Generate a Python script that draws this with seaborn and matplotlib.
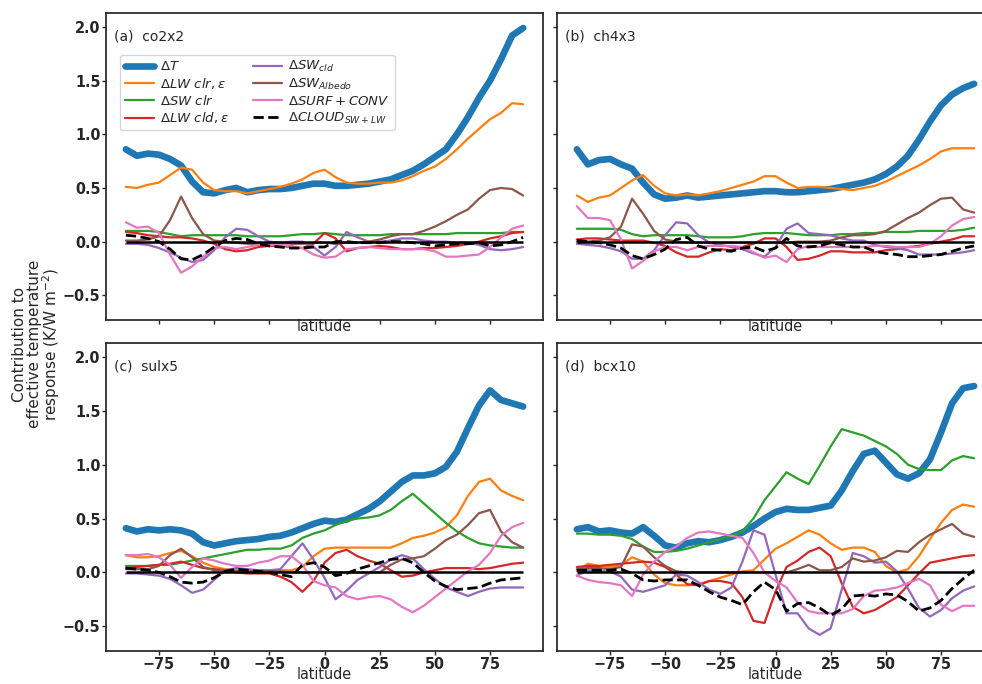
import matplotlib
matplotlib.use("Agg")
import matplotlib.pyplot as plt
import seaborn as sns

sns.set_theme(style="ticks")
plt.rcParams["font.family"] = ["DejaVu Sans"]

# latitude grid (degrees)
LAT = [-90, -85, -80, -75, -70, -65, -60, -55, -50, -45, -40, -35, -30,
       -25, -20, -15, -10, -5, 0, 5, 10, 15, 20, 25, 30, 35, 40, 45, 50,
       55, 60, 65, 70, 75, 80, 85, 90]

# ---- (a) co2x2 ----
co2_T = [0.86, 0.80, 0.82, 0.81, 0.77, 0.71, 0.56, 0.46, 0.45, 0.48, 0.50, 0.46, 0.48,
         0.49, 0.49, 0.50, 0.52, 0.54, 0.54, 0.52, 0.52, 0.53, 0.54, 0.56, 0.58, 0.62,
         0.66, 0.72, 0.79, 0.86, 1.00, 1.16, 1.34, 1.50, 1.70, 1.92, 1.99]
co2_LWclr = [0.51, 0.50, 0.53, 0.55, 0.62, 0.69, 0.67, 0.55, 0.48, 0.47, 0.47, 0.45, 0.47,
             0.49, 0.51, 0.54, 0.58, 0.64, 0.67, 0.60, 0.55, 0.54, 0.54, 0.55, 0.55, 0.57,
             0.61, 0.66, 0.70, 0.77, 0.86, 0.96, 1.05, 1.14, 1.20, 1.29, 1.28]
co2_SWclr = [0.10, 0.10, 0.10, 0.09, 0.07, 0.05, 0.06, 0.06, 0.06, 0.06, 0.06, 0.05, 0.05,
             0.05, 0.05, 0.06, 0.07, 0.07, 0.08, 0.07, 0.06, 0.06, 0.06, 0.06, 0.07, 0.07,
             0.07, 0.07, 0.07, 0.07, 0.08, 0.08, 0.08, 0.08, 0.08, 0.09, 0.09]
co2_LWcld = [0.09, 0.08, 0.06, 0.05, 0.04, 0.04, 0.03, 0.01, -0.02, -0.07, -0.09, -0.08, -0.05,
             -0.04, -0.04, -0.05, -0.06, -0.02, 0.08, 0.03, -0.09, -0.06, -0.05, -0.04, -0.05,
             -0.07, -0.07, -0.06, -0.06, -0.05, -0.04, -0.02, 0.00, 0.03, 0.05, 0.08, 0.09]
co2_SWcld = [-0.02, -0.02, -0.03, -0.06, -0.10, -0.15, -0.19, -0.17, -0.08, 0.04, 0.12, 0.11,
             0.05, 0.00, -0.01, 0.00, 0.00, -0.05, -0.13, -0.05, 0.09, 0.04, 0.00, 0.00, 0.01,
             0.03, 0.03, 0.01, 0.00, 0.00, -0.01, -0.01, -0.03, -0.07, -0.08, -0.07, -0.05]
co2_Alb = [0.01, 0.01, 0.02, 0.05, 0.20, 0.42, 0.22, 0.07, 0.01, 0.00, -0.01, -0.02, -0.02,
           -0.01, -0.01, -0.02, -0.02, -0.01, -0.01, -0.02, -0.01, -0.01, 0.00, 0.02, 0.05,
           0.07, 0.07, 0.10, 0.14, 0.19, 0.25, 0.30, 0.40, 0.48, 0.50, 0.49, 0.43]
co2_SURF = [0.18, 0.13, 0.14, 0.08, -0.12, -0.29, -0.23, -0.14, -0.06, -0.05, -0.07, -0.05,
            -0.03, -0.03, -0.03, -0.04, -0.06, -0.12, -0.15, -0.14, -0.07, -0.06, -0.05, -0.06,
            -0.07, -0.07, -0.07, -0.07, -0.09, -0.14, -0.14, -0.13, -0.12, -0.05, 0.04, 0.12, 0.15]
co2_CLD = [0.06, 0.05, 0.03, 0.00, -0.07, -0.16, -0.17, -0.12, -0.05, 0.01, 0.03, 0.02, -0.02,
           -0.04, -0.05, -0.06, -0.06, -0.05, -0.05, 0.00, 0.00, -0.01, -0.01, -0.01, 0.00,
           0.00, -0.01, -0.02, -0.04, -0.03, -0.02, -0.02, -0.01, -0.04, -0.03, 0.00, 0.04]

# ---- (b) ch4x3 ----
ch4_T = [0.86, 0.72, 0.76, 0.77, 0.72, 0.68, 0.55, 0.44, 0.40, 0.41, 0.43, 0.41, 0.42,
         0.43, 0.44, 0.45, 0.46, 0.47, 0.47, 0.46, 0.46, 0.47, 0.48, 0.49, 0.51, 0.53,
         0.55, 0.58, 0.63, 0.70, 0.80, 0.95, 1.12, 1.27, 1.37, 1.43, 1.47]
ch4_LWclr = [0.43, 0.37, 0.41, 0.43, 0.50, 0.57, 0.62, 0.52, 0.45, 0.43, 0.44, 0.43, 0.45,
             0.47, 0.50, 0.53, 0.56, 0.61, 0.61, 0.55, 0.50, 0.51, 0.51, 0.50, 0.49, 0.48,
             0.50, 0.52, 0.56, 0.61, 0.66, 0.71, 0.77, 0.84, 0.87, 0.87, 0.87]
ch4_SWclr = [0.12, 0.12, 0.12, 0.12, 0.11, 0.07, 0.05, 0.06, 0.06, 0.06, 0.06, 0.05, 0.04,
             0.04, 0.04, 0.05, 0.07, 0.08, 0.08, 0.08, 0.07, 0.06, 0.06, 0.06, 0.07, 0.07,
             0.08, 0.08, 0.09, 0.09, 0.09, 0.10, 0.10, 0.10, 0.10, 0.11, 0.13]
ch4_LWcld = [0.02, 0.03, 0.03, 0.02, 0.01, 0.01, 0.01, -0.01, -0.04, -0.10, -0.14, -0.14,
             -0.10, -0.07, -0.08, -0.05, -0.02, 0.03, 0.03, -0.05, -0.17, -0.16, -0.13, -0.09,
             -0.09, -0.10, -0.10, -0.10, -0.08, -0.07, -0.05, -0.04, -0.02, 0.00, 0.02, 0.05, 0.05]
ch4_SWcld = [-0.02, -0.03, -0.04, -0.06, -0.09, -0.16, -0.16, -0.08, 0.06, 0.18, 0.17, 0.06,
             -0.01, -0.03, -0.05, -0.07, -0.11, -0.14, -0.05, 0.12, 0.17, 0.08, 0.07, 0.06,
             0.03, 0.01, 0.01, -0.03, -0.05, -0.06, -0.08, -0.12, -0.12, -0.12, -0.11, -0.10, -0.08]
ch4_Alb = [0.00, 0.00, 0.01, 0.04, 0.14, 0.40, 0.26, 0.10, 0.02, 0.00, -0.01, -0.01, -0.01,
           -0.01, -0.01, -0.01, -0.01, -0.01, -0.01, -0.01, 0.00, 0.00, 0.00, 0.01, 0.04,
           0.06, 0.06, 0.07, 0.10, 0.16, 0.22, 0.27, 0.34, 0.40, 0.41, 0.30, 0.27]
ch4_SURF = [0.33, 0.22, 0.22, 0.20, 0.02, -0.25, -0.18, -0.09, -0.05, -0.05, -0.08, -0.05,
            -0.04, -0.04, -0.04, -0.05, -0.10, -0.15, -0.13, -0.19, -0.07, -0.04, -0.05, -0.05,
            -0.05, -0.05, -0.05, -0.04, -0.04, -0.05, -0.05, -0.05, -0.02, 0.05, 0.15, 0.21, 0.23]
ch4_CLD = [0.01, 0.00, -0.01, -0.03, -0.06, -0.13, -0.16, -0.12, -0.07, 0.02, 0.04, -0.04,
           -0.07, -0.08, -0.09, -0.06, -0.05, -0.09, -0.06, 0.03, -0.04, -0.05, -0.04, -0.01,
           -0.03, -0.05, -0.05, -0.09, -0.11, -0.12, -0.14, -0.14, -0.13, -0.12, -0.09, -0.06, -0.04]

# ---- (c) sulx5 ----
sul_T = [0.41, 0.38, 0.40, 0.39, 0.40, 0.39, 0.36, 0.28, 0.25, 0.27, 0.29, 0.30, 0.31,
         0.33, 0.34, 0.37, 0.41, 0.45, 0.48, 0.47, 0.49, 0.54, 0.59, 0.66, 0.75, 0.84,
         0.90, 0.90, 0.92, 0.98, 1.12, 1.34, 1.55, 1.69, 1.60, 1.57, 1.54]
sul_LWclr = [0.16, 0.14, 0.14, 0.15, 0.18, 0.20, 0.15, 0.09, 0.05, 0.03, 0.02, 0.02, 0.02,
             0.02, 0.02, 0.02, 0.05, 0.15, 0.22, 0.23, 0.23, 0.23, 0.23, 0.23, 0.23, 0.27,
             0.32, 0.34, 0.37, 0.42, 0.53, 0.71, 0.84, 0.87, 0.76, 0.71, 0.67]
sul_SWclr = [0.06, 0.06, 0.06, 0.07, 0.07, 0.09, 0.11, 0.13, 0.15, 0.17, 0.19, 0.21, 0.21,
             0.22, 0.22, 0.25, 0.32, 0.36, 0.39, 0.44, 0.48, 0.50, 0.51, 0.53, 0.58, 0.66,
             0.73, 0.64, 0.55, 0.46, 0.38, 0.32, 0.27, 0.25, 0.24, 0.23, 0.23]
sul_LWcld = [0.04, 0.05, 0.06, 0.07, 0.08, 0.10, 0.07, 0.04, 0.03, 0.02, 0.00, -0.01, -0.01,
             -0.01, -0.04, -0.09, -0.18, -0.08, 0.09, 0.18, 0.21, 0.15, 0.11, 0.08, 0.02,
             -0.04, -0.03, 0.00, 0.02, 0.04, 0.04, 0.04, 0.03, 0.04, 0.06, 0.08, 0.09]
sul_SWcld = [-0.01, -0.01, -0.02, -0.03, -0.06, -0.12, -0.19, -0.16, -0.07, 0.02, 0.04, 0.03,
             0.02, 0.02, 0.03, 0.15, 0.27, 0.12, -0.05, -0.25, -0.17, -0.07, -0.01, 0.05,
             0.12, 0.16, 0.13, 0.03, -0.06, -0.14, -0.18, -0.22, -0.18, -0.15, -0.14, -0.14, -0.14]
sul_Alb = [0.03, 0.03, 0.03, 0.06, 0.16, 0.22, 0.14, 0.05, 0.02, 0.02, 0.01, 0.01, 0.01,
           0.01, 0.01, 0.00, 0.00, 0.00, 0.00, 0.00, 0.00, 0.00, 0.00, 0.00, 0.07, 0.12,
           0.13, 0.15, 0.22, 0.30, 0.35, 0.44, 0.55, 0.58, 0.38, 0.28, 0.23]
sul_SURF = [0.16, 0.16, 0.17, 0.14, 0.07, -0.05, 0.05, 0.13, 0.11, 0.08, 0.06, 0.06, 0.09,
            0.11, 0.15, 0.15, 0.07, -0.08, -0.12, -0.14, -0.22, -0.25, -0.23, -0.22, -0.25,
            -0.32, -0.37, -0.31, -0.23, -0.15, -0.07, 0.01, 0.07, 0.18, 0.34, 0.42, 0.46]
sul_CLD = [0.04, 0.03, 0.02, 0.00, -0.04, -0.09, -0.10, -0.09, -0.05, 0.01, 0.03, 0.02, 0.01,
           0.00, -0.02, -0.04, 0.07, 0.09, 0.05, -0.03, -0.01, 0.03, 0.06, 0.09, 0.12, 0.13,
           0.09, 0.00, -0.08, -0.13, -0.16, -0.15, -0.14, -0.10, -0.07, -0.06, -0.05]

# ---- (d) bcx10 ----
bc_T = [0.40, 0.42, 0.38, 0.39, 0.37, 0.36, 0.42, 0.34, 0.25, 0.23, 0.27, 0.29, 0.28,
        0.30, 0.33, 0.37, 0.43, 0.50, 0.56, 0.59, 0.58, 0.58, 0.60, 0.62, 0.76, 0.94,
        1.10, 1.13, 1.02, 0.91, 0.87, 0.92, 1.05, 1.30, 1.57, 1.71, 1.73]
bc_LWclr = [0.01, 0.08, 0.06, 0.05, 0.07, 0.14, 0.10, -0.02, -0.10, -0.12, -0.12, -0.11,
            -0.08, -0.05, -0.02, 0.01, 0.02, 0.12, 0.22, 0.27, 0.33, 0.39, 0.35, 0.27, 0.21,
            0.23, 0.23, 0.19, 0.06, 0.00, 0.03, 0.15, 0.31, 0.46, 0.58, 0.63, 0.61]
bc_SWclr = [0.36, 0.36, 0.35, 0.35, 0.34, 0.31, 0.24, 0.19, 0.19, 0.20, 0.22, 0.25, 0.28,
            0.31, 0.34, 0.38, 0.50, 0.67, 0.80, 0.93, 0.87, 0.82, 0.99, 1.17, 1.33, 1.30,
            1.27, 1.22, 1.17, 1.10, 1.00, 0.96, 0.95, 0.95, 1.04, 1.08, 1.06]
bc_LWcld = [0.05, 0.06, 0.06, 0.07, 0.08, 0.09, 0.10, 0.09, 0.05, -0.02, -0.11, -0.12,
            -0.08, -0.08, -0.10, -0.23, -0.45, -0.47, -0.18, 0.05, 0.11, 0.19, 0.23, 0.15,
            -0.10, -0.32, -0.38, -0.35, -0.29, -0.23, -0.12, -0.01, 0.09, 0.11, 0.13, 0.15, 0.16]
bc_SWcld = [-0.03, 0.02, 0.01, 0.01, -0.04, -0.16, -0.18, -0.15, -0.12, -0.02, -0.03, -0.09,
            -0.16, -0.20, -0.14, 0.10, 0.39, 0.35, -0.02, -0.38, -0.38, -0.52, -0.58, -0.52,
            -0.16, 0.18, 0.15, 0.09, 0.10, 0.01, -0.15, -0.33, -0.41, -0.35, -0.24, -0.17, -0.13]
bc_Alb = [0.03, 0.04, 0.04, 0.03, 0.05, 0.26, 0.24, 0.14, 0.06, 0.01, 0.00, 0.00, 0.00,
          0.00, 0.00, 0.00, 0.00, 0.00, 0.00, 0.00, 0.03, 0.07, 0.02, 0.02, 0.05, 0.13,
          0.10, 0.11, 0.14, 0.20, 0.19, 0.28, 0.35, 0.40, 0.45, 0.36, 0.33]
bc_SURF = [-0.03, -0.07, -0.09, -0.10, -0.12, -0.22, -0.02, 0.10, 0.19, 0.24, 0.32, 0.37,
           0.38, 0.36, 0.34, 0.32, 0.18, 0.00, -0.08, -0.14, -0.28, -0.36, -0.38, -0.38,
           -0.38, -0.34, -0.22, -0.17, -0.16, -0.14, -0.10, -0.06, -0.12, -0.30, -0.36, -0.31, -0.31]
bc_CLD = [0.02, 0.02, 0.02, 0.02, 0.03, -0.01, -0.07, -0.08, -0.07, -0.07, -0.07, -0.12,
          -0.18, -0.23, -0.26, -0.30, -0.18, -0.09, -0.16, -0.36, -0.29, -0.28, -0.33, -0.40,
          -0.34, -0.22, -0.21, -0.22, -0.20, -0.21, -0.27, -0.36, -0.33, -0.26, -0.15, -0.06, 0.02]

PANELS = ["(a)  co2x2", "(b)  ch4x3", "(c)  sulx5", "(d)  bcx10"]
SERIES_LABELS = [r"$\Delta T$", r"$\Delta LW\ clr,\epsilon$", r"$\Delta SW\ clr$",
                 r"$\Delta LW\ cld,\epsilon$", r"$\Delta SW_{cld}$", r"$\Delta SW_{Albedo}$",
                 r"$\Delta SURF+CONV$", r"$\Delta CLOUD_{SW+LW}$"]
PANEL_DATA = [
    [co2_T, co2_LWclr, co2_SWclr, co2_LWcld, co2_SWcld, co2_Alb, co2_SURF, co2_CLD],
    [ch4_T, ch4_LWclr, ch4_SWclr, ch4_LWcld, ch4_SWcld, ch4_Alb, ch4_SURF, ch4_CLD],
    [sul_T, sul_LWclr, sul_SWclr, sul_LWcld, sul_SWcld, sul_Alb, sul_SURF, sul_CLD],
    [bc_T, bc_LWclr, bc_SWclr, bc_LWcld, bc_SWcld, bc_Alb, bc_SURF, bc_CLD],
]

pal = sns.color_palette("tab10")
COLORS = [pal[0], pal[1], pal[2], pal[3], pal[4], pal[5], pal[6], "black"]
WIDTHS = [4.8, 1.6, 1.6, 1.6, 1.6, 1.6, 1.6, 2.0]
STYLES = ["-", "-", "-", "-", "-", "-", "-", "--"]

W, H = 982, 684
fig = plt.figure(figsize=(W / 100, H / 100), dpi=100)


def px_rect(left, top, right, bottom):
    return [left / W, 1 - bottom / H, (right - left) / W, (bottom - top) / H]


RECTS = [px_rect(106, 13, 543, 320), px_rect(557, 13, 994, 320),
         px_rect(106, 343, 543, 651), px_rect(557, 343, 994, 651)]

tick_font = dict(fontsize=11.5, fontweight="bold", fontstretch="condensed")

for i, (rect, title, series) in enumerate(zip(RECTS, PANELS, PANEL_DATA)):
    ax = fig.add_axes(rect)
    for vals, lab, col, lw, ls in zip(series, SERIES_LABELS, COLORS, WIDTHS, STYLES):
        sns.lineplot(x=LAT, y=vals, ax=ax, color=col, linewidth=lw, linestyle=ls,
                     label=lab)
    ax.hlines(0, LAT[0], LAT[-1], color="black", linewidth=1.8, zorder=5)
    ax.set_xlim(-99, 99)
    ax.set_ylim(-0.73, 2.13)
    ax.set_xticks([-75, -50, -25, 0, 25, 50, 75])
    ax.set_yticks([-0.5, 0.0, 0.5, 1.0, 1.5, 2.0])
    ax.tick_params(length=3, width=1, pad=1)
    for lbl in ax.get_xticklabels() + ax.get_yticklabels():
        lbl.set(**tick_font)
    top_row = i < 2
    left_col = i % 2 == 0
    if top_row:
        ax.tick_params(labelbottom=False)
        ax.set_xlabel("latitude", fontsize=11.5, labelpad=-4, fontstretch="condensed")
    else:
        ax.set_xlabel("latitude", fontsize=11.5, labelpad=-3.5, fontstretch="condensed")
    if not left_col:
        ax.tick_params(labelleft=False)
    ax.set_ylabel("")
    ax.text(0.018, 0.925, title, transform=ax.transAxes, fontsize=10, va="center")
    leg = ax.get_legend()
    if leg is not None:
        leg.remove()
    if i == 0:
        handles, labels = ax.get_lines()[:8], SERIES_LABELS
        ax.legend(handles, labels, loc="upper left", bbox_to_anchor=(0.032, 0.864),
                  borderaxespad=0, ncol=2, fontsize=9.5, handlelength=2.2,
                  handletextpad=0.5, columnspacing=1.8, labelspacing=0.2,
                  borderpad=0.35)

fig.text(0.038, 0.497,
         "Contribution to\neffective temperature\nresponse (K/W m$^{-2}$)",
         rotation=90, ha="center", va="center", fontsize=11, linespacing=0.95,
         multialignment="center")

fig.savefig("out.png", dpi=100)
